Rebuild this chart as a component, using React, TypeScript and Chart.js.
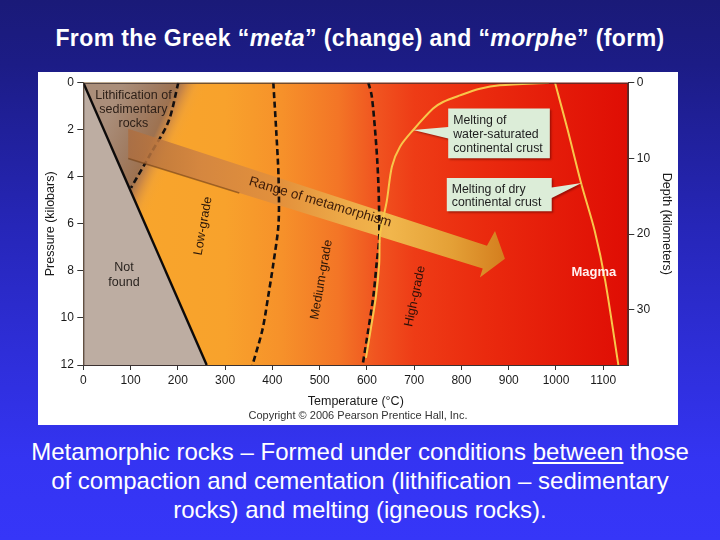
import React, { useEffect, useRef } from "react";
import { Chart, registerables } from "chart.js";

Chart.register(...registerables);

const FONT = '"Liberation Sans", Arial, Helvetica, sans-serif';

// ---- axes ----
const tempTicks = [0, 100, 200, 300, 400, 500, 600, 700, 800, 900, 1000, 1100];
const tempMax = 1153;
const pressureTicks = [0, 2, 4, 6, 8, 10, 12];
const pressureMax = 12;
const depthTicks = [0, 10, 20, 30];
const depthMax = 37.3;

// ---- regions & boundaries (temperature °C, pressure kbar) ----
const notFoundT = [0, 261, 0];
const notFoundP = [0, 12, 12];
const lithRegionT = [0, 275, 129];
const lithRegionP = [0, 0, 6.5];
const solidBoundaryT = [0, 261];
const solidBoundaryP = [0, 12];
const lithDashT = [201, 180, 141, 101];
const lithDashP = [0, 1.66, 3.07, 4.47];
const lowMedT = [402, 408, 413, 413, 402, 391, 379, 358];
const lowMedP = [0, 2, 4, 6, 7.7, 9.1, 10.5, 12];
const medHighT = [603, 610, 617, 622, 625, 626, 620.5, 613.5, 603, 591];
const medHighP = [0, 0.54, 1.95, 3.35, 4.75, 6.58, 7.7, 9.1, 10.5, 12];
const wetMeltT = [985, 881, 839, 797, 761, 740, 698, 670, 653, 642, 628, 626, 619, 608, 598];
const wetMeltP = [0, 0.11, 0.26, 0.54, 0.82, 1.1, 2.01, 2.72, 3.56, 5.04, 6.44, 7.7, 9.1, 10.5, 11.7];
const dryMeltT = [998, 1024, 1054, 1082, 1104, 1132];
const dryMeltP = [0, 1.95, 4.33, 6.3, 8.4, 12];

// ---- range of metamorphism arrow ----
const bandT = [95, 854, 871, 892, 839, 845, 95];
const bandP = [1.96, 6.93, 6.3, 7.48, 8.28, 7.9, 3.22];
const bandEdgeT = [95, 330];
const bandEdgeP = [3.22, 4.69];
const bandStopT = [95, 250, 420, 560, 650, 780, 892];
const bandStopColors = [
  "rgba(172,108,62,0.78)",
  "rgba(212,134,64,0.96)",
  "#e3913c",
  "#eeab48",
  "#f1b64c",
  "#e4a036",
  "#d47e1e",
];

// ---- background ----
const bgStopT = [0, 300, 420, 540, 620, 700, 850, 1153];
const bgColors = ["#f8a72c", "#f8a22c", "#f6912a", "#f37526", "#f05420", "#ee3c16", "#ea2a0e", "#df0d04"];

// ---- callouts ----
const calloutLines = [
  ["Melting of", "water-saturated", "continental crust"],
  ["Melting of dry", "continental crust"],
];
const calloutT = [[772, 987], [769, 991]];
const calloutP = [[1.1, 3.21], [4.05, 5.46]];
const calloutTipT = [698, 1054];
const calloutTipP = [2.01, 4.26];
const calloutBaseP = [[1.88, 2.37], [4.45, 4.9]];

// ---- labels ----
const labelText = [
  ["Lithification of", "sedimentary", "rocks"],
  ["Not", "found"],
  ["Low-grade"],
  ["Medium-grade"],
  ["High-grade"],
  ["Range of metamorphism"],
  ["Magma"],
];
const labelT = [106, 86, 253.6, 504, 702, 501, 1080];
const labelP = [1.15, 8.18, 6.09, 8.37, 9.08, 5.08, 8.07];
const labelAngle = [0, 0, -80, -80, -78, 16.5, 0];
const labelSize = [12.5, 12.5, 12.5, 12.5, 12.5, 13.5, 13];
const labelBold = [false, false, false, false, false, false, true];
const labelColor = ["#2e2018", "#2a2420", "#2a1608", "#2a1608", "#2a1008", "#3b1a08", "#fff2f0"];

const pts = (T: number[], P: number[]) => T.map((t, i) => ({ x: t, y: P[i] }));

function lithGradient(chart: any) {
  const { chartArea, scales } = chart;
  if (!chartArea || !scales.x) return "rgb(160,124,98)";
  const x = scales.x, y = scales.y;
  const ax = x.getPixelForValue(lithDashT[0]);
  const ay = y.getPixelForValue(lithDashP[0]);
  const bx = x.getPixelForValue(lithDashT[lithDashT.length - 1]);
  const by = y.getPixelForValue(lithDashP[lithDashP.length - 1]);
  const dx = bx - ax, dy = by - ay;
  const n = Math.hypot(dx, dy) || 1;
  const ux = dy / n, uy = -dx / n;
  const sx = ux > 0 ? ux : -ux, sy = ux > 0 ? uy : -uy;
  const g = chart.ctx.createLinearGradient(ax - 50 * sx, ay - 50 * sy, ax + 35 * sx, ay + 35 * sy);
  g.addColorStop(0, "rgb(170,142,122)");
  g.addColorStop(0.35, "rgb(160,124,98)");
  g.addColorStop(0.58, "rgb(158,114,80)");
  g.addColorStop(0.67, "rgba(198,132,72,0.88)");
  g.addColorStop(0.8, "rgba(236,160,60,0.38)");
  g.addColorStop(0.93, "rgba(248,165,45,0)");
  return g;
}

function bandGradient(chart: any) {
  const { chartArea, scales } = chart;
  if (!chartArea || !scales.x) return "#e09038";
  const x = scales.x;
  const x0 = x.getPixelForValue(bandStopT[0]);
  const x1 = x.getPixelForValue(bandStopT[bandStopT.length - 1]);
  const g = chart.ctx.createLinearGradient(x0, 0, x1, 0);
  bandStopT.forEach((t, i) => {
    g.addColorStop((x.getPixelForValue(t) - x0) / (x1 - x0), bandStopColors[i]);
  });
  return g;
}

const diagramPlugin = {
  id: "diagram",
  beforeDatasetsDraw(chart: any) {
    const { ctx, chartArea: a, scales } = chart;
    const x = scales.x;
    const x0 = x.getPixelForValue(bgStopT[0]);
    const x1 = x.getPixelForValue(bgStopT[bgStopT.length - 1]);
    const g = ctx.createLinearGradient(x0, 0, x1, 0);
    bgStopT.forEach((t, i) => g.addColorStop((x.getPixelForValue(t) - x0) / (x1 - x0), bgColors[i]));
    ctx.save();
    ctx.fillStyle = g;
    ctx.fillRect(a.left, a.top, a.right - a.left, a.bottom - a.top);
    ctx.restore();
  },
  afterDatasetsDraw(chart: any) {
    const { ctx, chartArea: a, scales } = chart;
    const x = scales.x, y = scales.y;
    // callouts
    calloutLines.forEach((lines, i) => {
      const bx0 = x.getPixelForValue(calloutT[i][0]);
      const bx1 = x.getPixelForValue(calloutT[i][1]);
      const by0 = y.getPixelForValue(calloutP[i][0]);
      const by1 = y.getPixelForValue(calloutP[i][1]);
      const tx = x.getPixelForValue(calloutTipT[i]);
      const ty = y.getPixelForValue(calloutTipP[i]);
      const p0 = y.getPixelForValue(calloutBaseP[i][0]);
      const p1 = y.getPixelForValue(calloutBaseP[i][1]);
      ctx.save();
      ctx.shadowColor = "rgba(70,0,0,0.45)";
      ctx.shadowOffsetX = 1.5;
      ctx.shadowOffsetY = 1.5;
      ctx.shadowBlur = 2;
      ctx.fillStyle = "#dcedd8";
      ctx.beginPath();
      if (tx < bx0) {
        ctx.moveTo(bx0, by0);
        ctx.lineTo(bx1, by0);
        ctx.lineTo(bx1, by1);
        ctx.lineTo(bx0, by1);
        ctx.lineTo(bx0, p1);
        ctx.lineTo(tx, ty);
        ctx.lineTo(bx0, p0);
      } else {
        ctx.moveTo(bx0, by0);
        ctx.lineTo(bx1, by0);
        ctx.lineTo(bx1, p0);
        ctx.lineTo(tx, ty);
        ctx.lineTo(bx1, p1);
        ctx.lineTo(bx1, by1);
        ctx.lineTo(bx0, by1);
      }
      ctx.closePath();
      ctx.fill();
      ctx.restore();
      ctx.save();
      ctx.fillStyle = "#1e1e1e";
      ctx.font = `12.3px ${FONT}`;
      ctx.textAlign = "left";
      ctx.textBaseline = "middle";
      const lh = 13.8;
      const cy = (by0 + by1) / 2 + 1.5 - ((lines.length - 1) * lh) / 2;
      lines.forEach((s, k) => ctx.fillText(s, bx0 + 5, cy + k * lh));
      ctx.restore();
    });
    // labels
    labelText.forEach((lines, i) => {
      const px = x.getPixelForValue(labelT[i]);
      const py = y.getPixelForValue(labelP[i]);
      ctx.save();
      ctx.translate(px, py);
      ctx.rotate((labelAngle[i] * Math.PI) / 180);
      ctx.font = `${labelBold[i] ? "bold " : ""}${labelSize[i]}px ${FONT}`;
      ctx.fillStyle = labelColor[i];
      ctx.textAlign = "center";
      ctx.textBaseline = "middle";
      const lh = 14.2;
      const off = ((lines.length - 1) * lh) / 2;
      lines.forEach((s, k) => ctx.fillText(s, 0, k * lh - off));
      ctx.restore();
    });
    // frame
    ctx.save();
    ctx.strokeStyle = "#3a3030";
    ctx.lineWidth = 1;
    ctx.strokeRect(a.left + 0.5, a.top + 0.5, a.right - a.left - 1, a.bottom - a.top);
    ctx.restore();
  },
};

export default function App() {
  const ref = useRef<HTMLCanvasElement>(null);

  useEffect(() => {
    const canvas = ref.current;
    if (!canvas) return;
    const tickFont = { family: FONT, size: 12 };
    const titleFont = { family: FONT, size: 12.5 };
    const plain = (v: any) => String(v);
    const line = (T: number[], P: number[], color: string, width: number, order: number, extra: any = {}) => ({
      type: "line",
      data: pts(T, P),
      borderColor: color,
      borderWidth: width,
      pointRadius: 0,
      fill: false,
      tension: 0.3,
      order,
      ...extra,
    });
    const area = (T: number[], P: number[], bg: any, order: number) => ({
      type: "line",
      data: pts(T, P),
      borderWidth: 0,
      borderColor: "rgba(0,0,0,0)",
      backgroundColor: bg,
      pointRadius: 0,
      fill: "shape",
      tension: 0,
      order,
    });
    const chart = new Chart(canvas, {
      type: "line",
      data: {
        datasets: [
          area(lithRegionT, lithRegionP, (c: any) => lithGradient(c.chart), 100),
          area(notFoundT, notFoundP, "#bdada2", 99),
          line(lithDashT, lithDashP, "#141010", 2.6, 98, { borderDash: [6, 3.5] }),
          area(bandT, bandP, (c: any) => bandGradient(c.chart), 97),
          line(bandEdgeT, bandEdgeP, "rgba(110,62,20,0.6)", 1.5, 96, { tension: 0 }),
          line(lowMedT, lowMedP, "#141010", 2.6, 95, { borderDash: [6, 3.5] }),
          line(medHighT, medHighP, "#141010", 2.6, 94, { borderDash: [6, 3.5] }),
          line(wetMeltT, wetMeltP, "#f8c64a", 2, 93),
          line(dryMeltT, dryMeltP, "#f8c64a", 2, 92),
          line(solidBoundaryT, solidBoundaryP, "#0c0a0a", 2.4, 91, { tension: 0 }),
        ] as any,
      },
      options: {
        animation: false,
        responsive: false,
        devicePixelRatio: 1,
        events: [],
        layout: { padding: { top: 8.5, left: 0, right: 0, bottom: 0 } },
        plugins: {
          legend: { display: false },
          tooltip: { enabled: false },
          filler: { propagate: false },
        },
        scales: {
          x: {
            type: "linear",
            position: "bottom",
            min: 0,
            max: tempMax,
            afterFit: (s: any) => {
              s.height = 60;
            },
            afterBuildTicks: (s: any) => {
              s.ticks = tempTicks.map((v) => ({ value: v }));
            },
            ticks: { font: tickFont, color: "#1a1a1a", padding: 3, maxRotation: 0, autoSkip: false, callback: plain },
            grid: { drawOnChartArea: false, tickLength: 5, color: "#333" },
            border: { display: true, color: "#333", width: 1 },
            title: {
              display: true,
              text: "Temperature (°C)",
              font: titleFont,
              color: "#1a1a1a",
              padding: { top: 0, bottom: 16 },
            },
          },
          y: {
            type: "linear",
            position: "left",
            reverse: true,
            min: 0,
            max: pressureMax,
            afterFit: (s: any) => {
              s.width = 45.3;
            },
            afterBuildTicks: (s: any) => {
              s.ticks = pressureTicks.map((v) => ({ value: v }));
            },
            ticks: { font: tickFont, color: "#1a1a1a", padding: 3.5, autoSkip: false, callback: plain },
            grid: { drawOnChartArea: false, tickLength: 6, color: "#333" },
            border: { display: true, color: "#555", width: 1 },
            title: {
              display: true,
              text: "Pressure (kilobars)",
              font: titleFont,
              color: "#1a1a1a",
              padding: { top: 5, bottom: 0 },
            },
          },
          y2: {
            type: "linear",
            position: "right",
            reverse: true,
            min: 0,
            max: depthMax,
            afterFit: (s: any) => {
              s.width = 49.7;
            },
            afterBuildTicks: (s: any) => {
              s.ticks = depthTicks.map((v) => ({ value: v }));
            },
            ticks: { font: tickFont, color: "#1a1a1a", padding: 2.5, autoSkip: false, callback: plain },
            grid: { drawOnChartArea: false, tickLength: 6, color: "#333" },
            border: { display: true, color: "#333", width: 1 },
            title: {
              display: true,
              text: "Depth (kilometers)",
              font: titleFont,
              color: "#1a1a1a",
              padding: { top: 4.4, bottom: 0 },
            },
          },
        },
      } as any,
      plugins: [diagramPlugin],
    });
    return () => chart.destroy();
  }, []);

  return (
    <div
      style={{
        position: "fixed",
        left: 0,
        top: 0,
        width: 720,
        height: 540,
        overflow: "hidden",
        fontFamily: FONT,
        background: "linear-gradient(to bottom, #1a1a78 0%, #1c1c86 12%, #2626b8 42%, #2e2ed8 65%, #3434f2 85%, #3636f8 100%)",
      }}
    >
      <div
        style={{
          position: "absolute",
          top: 24,
          left: 0,
          width: 720,
          textAlign: "center",
          color: "#ffffff",
          fontWeight: "bold",
          fontSize: 23,
          letterSpacing: "0.4px",
          lineHeight: "28px",
          whiteSpace: "nowrap",
        }}
      >
        From the Greek “<i>meta</i>” (change) and “<i>morph</i>e” (form)
      </div>
      <div
        style={{
          position: "absolute",
          left: 38,
          top: 72,
          width: 640,
          height: 353,
          background: "#ffffff",
        }}
      >
        <canvas ref={ref} width={640} height={353} style={{ display: "block" }} />
        <div
          style={{
            position: "absolute",
            left: 0,
            top: 336,
            width: 640,
            textAlign: "center",
            fontSize: 11,
            lineHeight: "14px",
            color: "#333",
            whiteSpace: "nowrap",
          }}
        >
          Copyright © 2006 Pearson Prentice Hall, Inc.
        </div>
      </div>
      <div
        style={{
          position: "absolute",
          top: 437,
          left: 0,
          width: 720,
          textAlign: "center",
          color: "#ffffff",
          fontSize: 24,
          lineHeight: "29px",
          whiteSpace: "nowrap",
        }}
      >
        Metamorphic rocks – Formed under conditions <u>between</u> those
        <br />
        of compaction and cementation (lithification – sedimentary
        <br />
        rocks) and melting (igneous rocks).
      </div>
    </div>
  );
}
